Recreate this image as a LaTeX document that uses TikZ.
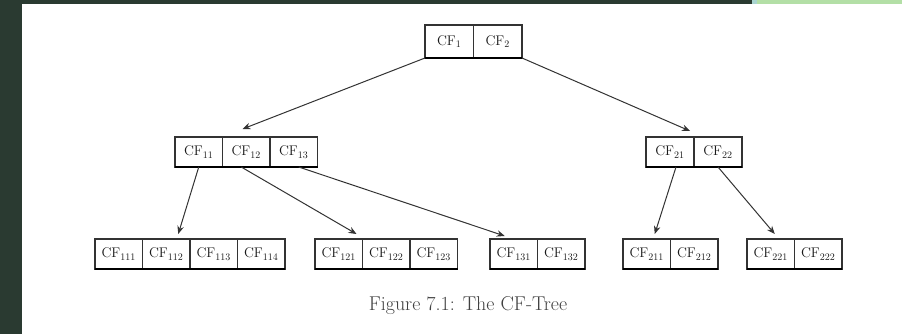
\documentclass[tikz,border=0pt]{standalone}
\usetikzlibrary{arrows.meta,positioning}
\definecolor{bandgreen}{HTML}{2A3A31}
\definecolor{leafgreen}{HTML}{B3DFA6}
\definecolor{tintblue}{HTML}{A9D4D0}
\begin{document}
\begin{tikzpicture}[x=1pt,y=-1pt,
  cell/.style={draw=black!80, line width=1.3pt, fill=white, outer sep=0pt,
    minimum width=47.5pt, minimum height=30pt, inner sep=0pt,
    font=\fontsize{14}{14}\selectfont, text=black!90},
  arr/.style={draw=black!80, line width=1pt, -{Stealth[length=8pt,width=6.5pt]}},
  base/.style={line width=2.6pt, draw=black}]

% page and frame bands
\fill[white] (0,0) rectangle (902,334);
\useasboundingbox (0,0) rectangle (902,334);
\fill[bandgreen] (0,0) rectangle (22,334);
\fill[bandgreen] (0,0) rectangle (752,4);
\fill[tintblue] (752,0) rectangle (757,4);
\fill[leafgreen] (757,0) rectangle (902,4);

% root
\node[cell, minimum width=48.5pt, minimum height=33pt, anchor=north west] (t1) at (425,25) {CF$_1$};
\node[cell, minimum width=48.5pt, minimum height=33pt, right=0pt of t1] (t2) {CF$_2$};

% second level
\begin{scope}[every node/.append style={minimum height=31pt}]
\node[cell, anchor=north west] (m11) at (175,137) {CF$_{11}$};
\node[cell, right=0pt of m11] (m12) {CF$_{12}$};
\node[cell, right=0pt of m12] (m13) {CF$_{13}$};
\node[cell, minimum width=48pt, anchor=north west] (m21) at (646,137) {CF$_{21}$};
\node[cell, minimum width=48pt, right=0pt of m21] (m22) {CF$_{22}$};
\end{scope}

% leaves
\begin{scope}[every node/.append style={minimum height=29pt}]
\node[cell, anchor=north west] (b11) at (95,239) {CF$_{111}$};
\node[cell, right=0pt of b11] (b12) {CF$_{112}$};
\node[cell, right=0pt of b12] (b13) {CF$_{113}$};
\node[cell, right=0pt of b13] (b14) {CF$_{114}$};
\node[cell, anchor=north west] (b21) at (315,239) {CF$_{121}$};
\node[cell, right=0pt of b21] (b22) {CF$_{122}$};
\node[cell, right=0pt of b22] (b23) {CF$_{123}$};
\node[cell, anchor=north west] (b31) at (490,239) {CF$_{131}$};
\node[cell, right=0pt of b31] (b32) {CF$_{132}$};
\node[cell, anchor=north west] (b41) at (623,239) {CF$_{211}$};
\node[cell, right=0pt of b41] (b42) {CF$_{212}$};
\node[cell, anchor=north west] (b51) at (747,239) {CF$_{221}$};
\node[cell, right=0pt of b51] (b52) {CF$_{222}$};
\end{scope}

% heavy lower edges of each node group
\draw[base] (t1.south west) -- (t2.south east);
\draw[base] (m11.south west) -- (m13.south east);
\draw[base] (m21.south west) -- (m22.south east);
\draw[base] (b11.south west) -- (b14.south east);
\draw[base] (b21.south west) -- (b23.south east);
\draw[base] (b31.south west) -- (b32.south east);
\draw[base] (b41.south west) -- (b42.south east);
\draw[base] (b51.south west) -- (b52.south east);

% child pointers
\draw[arr] (t1.south west) -- ([xshift=20pt,yshift=8pt]m12.north west);
\draw[arr] (t2.south east) -- ([xshift=-4pt,yshift=6pt]m22.north west);
\draw[arr] (m11.south) -- ([xshift=12pt,yshift=5pt]b12.north);
\draw[arr] ([xshift=-5pt]m12.south) -- ([xshift=-6pt,yshift=5pt]b21.north east);
\draw[arr] ([xshift=5pt]m13.south) -- ([xshift=-9pt,yshift=3pt]b31.north);
\draw[arr] ([xshift=6pt]m21.south) -- ([xshift=8pt,yshift=5pt]b41.north);
\draw[arr] (m22.south) -- ([xshift=4pt,yshift=5pt]b51.north);

% caption
\node[font=\fontsize{20}{20}\selectfont, text=black!75] (cap) at (468,306) {Figure 7.1: The CF-Tree};
\end{tikzpicture}
\end{document}
